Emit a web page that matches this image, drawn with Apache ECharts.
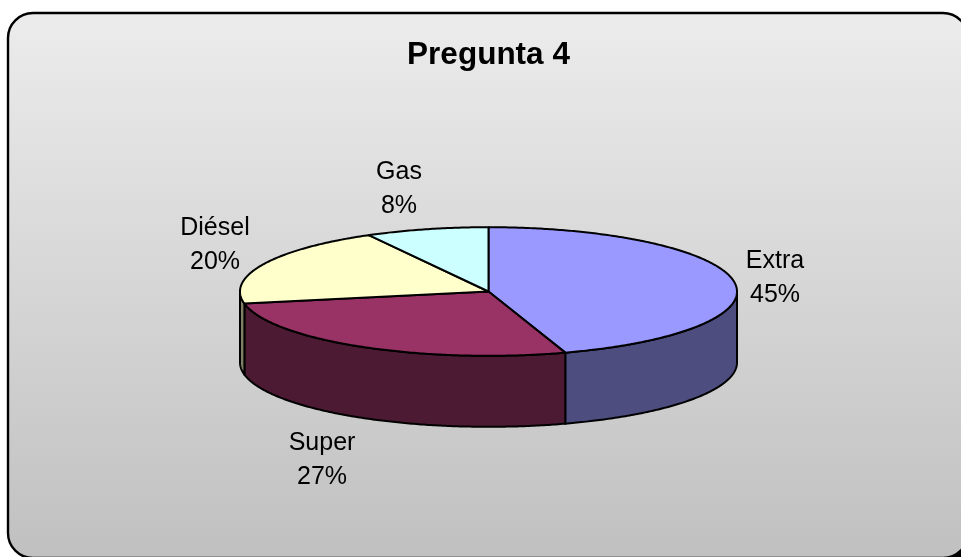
<!DOCTYPE html>
<html>
<head>
<meta charset="utf-8">
<style>html,body{margin:0;padding:0;background:#fff}#c{width:961px;height:557px}</style>
<script src="https://cdn.jsdelivr.net/npm/echarts@6/dist/echarts.min.js"></script>
</head>
<body>
<div id="c"></div>
<script>
const categories = ['Extra', 'Super', 'Diésel', 'Gas'];
const values = [45, 27, 20, 8];
const titleText = 'Pregunta 4';

const topColors = ['#9999ff', '#993366', '#ffffcc', '#ccffff'];
const wallColors = ['#4d4d80', '#4d1a33', '#808066', '#668080'];
const labelCenters = [[775, 278], [322, 460], [215, 245], [399, 189]];

const CX = 488.5, CY = 291.5, RX = 248.5, RY = 64.3, DEPTH = 71;
const total = values.reduce((a, b) => a + b, 0);
const pt = (t, dy) => [CX + RX * Math.sin(t), CY - RY * Math.cos(t) + (dy || 0)];
const arc = (a, b, dy) => {
  const n = Math.max(2, Math.ceil(Math.abs(b - a) / 0.01));
  const out = [];
  for (let i = 0; i <= n; i++) out.push(pt(a + (b - a) * i / n, dy));
  return out;
};
const line = { stroke: '#000', lineWidth: 2, lineJoin: 'round' };

function renderItem(params, api) {
  const i = params.dataIndex;
  let before = 0;
  for (let k = 0; k < i; k++) before += values[k];
  const a = before / total * Math.PI * 2;
  const b = (before + api.value(0)) / total * Math.PI * 2;
  const children = [];
  const wa = Math.max(a, Math.PI / 2), wb = Math.min(b, Math.PI * 1.5);
  if (wb > wa) {
    children.push({
      type: 'polygon', z2: 1,
      shape: { points: arc(wa, wb, 0).concat(arc(wb, wa, DEPTH)) },
      style: Object.assign({ fill: wallColors[i] }, line)
    });
  }
  children.push({
    type: 'polygon', z2: 2,
    shape: { points: [[CX, CY]].concat(arc(a, b, 0)) },
    style: Object.assign({ fill: topColors[i] }, line)
  });
  children.push({
    type: 'text', z2: 3,
    style: {
      text: categories[i] + '\n' + Math.round(api.value(0) / total * 100) + '%',
      x: labelCenters[i][0], y: labelCenters[i][1],
      align: 'center', verticalAlign: 'middle',
      fill: '#000', font: '25px "Liberation Sans", Arial, sans-serif', lineHeight: 34
    }
  });
  return { type: 'group', children };
}

const chart = echarts.init(document.getElementById('c'), null, { renderer: 'canvas' });
chart.setOption({
  animation: false,
  backgroundColor: '#fff',
  title: {
    text: titleText, left: 483.5, top: 34, textAlign: 'center',
    textStyle: { fontFamily: '"Liberation Sans", Arial, sans-serif', fontWeight: 'bold', fontSize: 31.5, color: '#000' }
  },
  graphic: [
    { type: 'rect', z: 0, silent: true, shape: { x: 935, y: 535, width: 26, height: 22 }, style: { fill: '#000' } },
    {
      type: 'rect', z: 1, silent: true,
      shape: { x: 8, y: 13, width: 960, height: 545, r: 25 },
      style: {
        stroke: '#000', lineWidth: 2.4,
        fill: new echarts.graphic.LinearGradient(0, 0, 0, 1, [
          { offset: 0, color: '#ececec' }, { offset: 1, color: '#c0c0c0' }
        ])
      }
    }
  ],
  series: [{
    type: 'custom', coordinateSystem: 'none', silent: true, z: 5,
    renderItem,
    data: values.map((v, i) => ({ name: categories[i], value: [v] }))
  }]
});
</script>
</body>
</html>
